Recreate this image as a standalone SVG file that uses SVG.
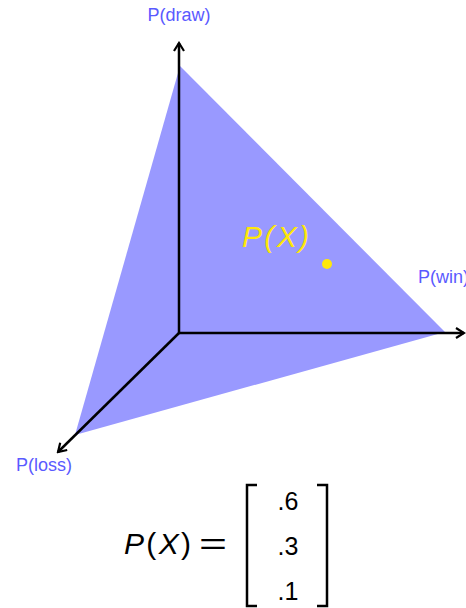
<svg xmlns="http://www.w3.org/2000/svg" width="466" height="608" viewBox="0 0 466 608">
<style>
.ax{stroke:#000;stroke-width:2.5;fill:none}
.lbl{font-family:"Liberation Sans",Arial,sans-serif;font-size:18px;fill:#5a5aff}
.math{font-family:"Liberation Sans",Arial,sans-serif;fill:#000}
.it{font-style:italic}
.br{stroke:#000;stroke-width:2.5;fill:none}
</style>
<defs>
<marker id="arr" viewBox="0 0 12 12" refX="10" refY="6" markerWidth="12" markerHeight="12" markerUnits="userSpaceOnUse" orient="auto">
<path d="M2,1 L10,6 L2,11" fill="none" stroke="#000" stroke-width="2.2"/>
</marker>
</defs>
<rect width="466" height="608" fill="#fff"/>
<g id="simplex">
<polygon points="180,66 445,332 75,435" fill="#9999ff"/>
</g>
<g id="connectors">
<line class="ax" x1="179" y1="333" x2="179" y2="43" marker-end="url(#arr)"/>
<line class="ax" x1="179" y1="333" x2="464" y2="333" marker-end="url(#arr)"/>
<line class="ax" x1="179" y1="333" x2="58" y2="452" marker-end="url(#arr)"/>
</g>
<g id="draw"><text class="lbl" x="179" y="21" text-anchor="middle">P(draw)</text></g>
<g id="win"><text class="lbl" x="418" y="283">P(win)</text></g>
<g id="loss"><text class="lbl" x="16" y="471">P(loss)</text></g>
<g id="px">
<text x="242" y="247" font-family="'Liberation Sans',Arial,sans-serif" font-size="30" font-style="italic" fill="#ffe70a" textLength="67" lengthAdjust="spacing">P(X)</text>
<circle cx="327" cy="264" r="5" fill="#ffe70a"/>
</g>
<g id="equation">
<text class="math" x="124" y="554" font-size="30" textLength="67" lengthAdjust="spacing"><tspan class="it">P</tspan>(<tspan class="it">X</tspan>)</text>
<text class="math" x="199" y="554" font-size="30" textLength="28" lengthAdjust="spacingAndGlyphs">=</text>
<path class="br" d="M257,485 L247,485 L247,606 L257,606"/>
<path class="br" d="M317,485 L327,485 L327,606 L317,606"/>
<text class="math" x="288" y="510" font-size="25" text-anchor="middle">.6</text>
<text class="math" x="288" y="555" font-size="25" text-anchor="middle">.3</text>
<text class="math" x="288" y="600" font-size="25" text-anchor="middle">.1</text>
</g>
</svg>
